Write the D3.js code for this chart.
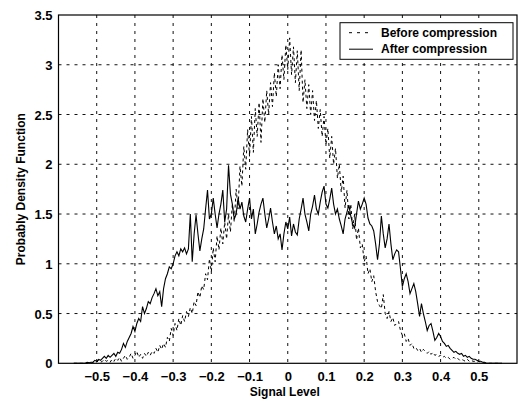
<!DOCTYPE html>
<meta charset="utf-8">
<head>
    <title>Probably Density Function</title>
    <script src="https://d3js.org/d3.v7.min.js"></script>
    <style>
        body {
            margin: 0;
            background: #fff;
        }

        svg text {
            font-family: "Liberation Sans", Arial, sans-serif;
            font-weight: bold;
            font-size: 12px;
            fill: #000;
        }

        .tick text {
            font-size: 13px;
        }
    </style>
</head>

<body>
<div id="chart"></div>

<script>
    // signal level grid: one sample every 0.005 from -0.56 to 0.56
    var levelStart = -0.56,
        levelStep = 0.005;

    var beforeCompression = [
        0, 0, 0, 0, 0, 0, 0, 0, 0.01, 0,
        0.01, 0.02, 0.01, 0.03, 0.01, 0.02, 0.04, 0.02, 0.03, 0.01,
        0.04, 0.02, 0.05, 0.03, 0.06, 0.02, 0.05, 0.08, 0.04, 0.06,
        0.1, 0.05, 0.08, 0.12, 0.06, 0.09, 0.05, 0.1, 0.07, 0.11,
        0.08, 0.12, 0.1, 0.15, 0.11, 0.18, 0.14, 0.2, 0.16, 0.26,
        0.22, 0.35, 0.28, 0.4, 0.33, 0.45, 0.38, 0.48, 0.42, 0.52,
        0.47, 0.56, 0.5, 0.62, 0.58, 0.72, 0.66, 0.78, 0.74, 0.9,
        0.84, 1.05, 0.92, 1.16, 1.02, 1.28, 1.14, 1.36, 1.2, 1.42,
        1.25, 1.5, 1.32, 1.6, 1.42, 1.75, 1.55, 1.98, 1.78, 2.18,
        1.95, 2.35, 2.08, 2.48, 2.12, 2.56, 2.28, 2.62, 2.22, 2.66,
        2.42, 2.74, 2.5, 2.82, 2.58, 2.92, 2.68, 3.0, 2.76, 3.1,
        2.85, 3.2, 2.95, 3.27, 2.9, 3.18, 2.82, 3.14, 2.74, 3.15,
        2.62, 2.85, 2.56, 2.8, 2.5, 2.74, 2.44, 2.64, 2.36, 2.55,
        2.28, 2.48, 2.2, 2.36, 2.06, 2.28, 2.0, 2.16, 1.86, 2.0,
        1.72, 1.88, 1.56, 1.74, 1.45, 1.6, 1.35, 1.5, 1.24, 1.36,
        1.16, 1.2, 1.02, 1.08, 0.9, 0.95, 0.82, 0.88, 0.72, 0.62,
        0.58, 0.55, 0.69, 0.5, 0.45, 0.52, 0.42, 0.46, 0.38, 0.4,
        0.42, 0.33, 0.28, 0.3, 0.22, 0.25, 0.18, 0.2, 0.15, 0.16,
        0.13, 0.15, 0.11, 0.14, 0.12, 0.1, 0.12, 0.09, 0.11, 0.08,
        0.09, 0.07, 0.08, 0.06, 0.07, 0.05, 0.06, 0.04, 0.05, 0.06,
        0.04, 0.05, 0.03, 0.04, 0.03, 0.02, 0.04, 0.02, 0.03, 0.02,
        0.02, 0.01, 0.02, 0.01, 0.01, 0, 0, 0, 0, 0,
        0, 0, 0, 0, 0
    ];

    var afterCompression = [
        0, 0, 0, 0, 0, 0, 0, 0.01, 0.005, 0.01,
        0.01, 0.03, 0.02, 0.04, 0.03, 0.05, 0.07, 0.05, 0.08, 0.06,
        0.08, 0.1, 0.07, 0.11, 0.1, 0.14, 0.2, 0.16, 0.22, 0.26,
        0.3, 0.37, 0.32, 0.4, 0.45, 0.42, 0.57, 0.5, 0.55, 0.62,
        0.6, 0.66, 0.7, 0.75, 0.68, 0.72, 0.57, 0.75, 0.85, 0.9,
        0.97, 0.95, 1.0, 1.08, 1.12, 1.08, 1.15, 1.12, 1.16, 1.1,
        1.15, 1.5, 1.02, 1.3, 1.49, 1.3, 1.13, 1.25, 1.35, 1.55,
        1.74, 1.45, 1.5, 1.66, 1.5, 1.36, 1.5, 1.6, 1.74, 1.42,
        1.55, 1.99, 1.7, 1.6, 1.45, 1.5, 1.66, 1.55, 1.62, 1.48,
        1.42, 1.55, 1.66, 1.45, 1.55, 1.3, 1.4, 1.52, 1.6, 1.66,
        1.5, 1.36, 1.45, 1.56, 1.42, 1.3, 1.38, 1.25, 1.3, 1.14,
        1.3, 1.42, 1.35, 1.47, 1.28, 1.4, 1.32, 1.29, 1.45, 1.55,
        1.66, 1.5, 1.42, 1.33, 1.5, 1.58, 1.69, 1.55, 1.5, 1.62,
        1.72, 1.78, 1.6, 1.56, 1.65, 1.76, 1.6, 1.5, 1.55, 1.45,
        1.38, 1.3, 1.45, 1.52, 1.59, 1.48, 1.4, 1.36, 1.5, 1.63,
        1.55, 1.6, 1.66, 1.6, 1.46, 1.4, 1.38, 1.33, 1.2, 1.04,
        1.2, 1.48, 1.3, 1.16, 1.25, 1.4, 1.2, 1.04, 1.1, 1.14,
        1.12, 0.95, 0.77, 0.85, 0.9, 0.82, 0.7, 0.75, 0.8, 0.72,
        0.6, 0.47, 0.6, 0.5, 0.42, 0.33, 0.38, 0.4, 0.32, 0.23,
        0.26, 0.3, 0.27, 0.22, 0.2, 0.17, 0.18, 0.15, 0.13, 0.11,
        0.12, 0.1, 0.09, 0.1, 0.07, 0.08, 0.06, 0.07, 0.05, 0.04,
        0.04, 0.03, 0.02, 0.02, 0.01, 0.01, 0, 0, 0, 0,
        0, 0, 0, 0, 0
    ];

    var seriesNames = ["Before compression", "After compression"];
    var xTicks = [-0.5, -0.4, -0.3, -0.2, -0.1, 0, 0.1, 0.2, 0.3, 0.4, 0.5];
    var yTicks = [0, 0.5, 1, 1.5, 2, 2.5, 3, 3.5];

    var margin = {top: 15, right: 1, bottom: 42.7, left: 58.5},
        width = 518 - margin.left - margin.right,
        height = 406 - margin.top - margin.bottom;

    var svg = d3.select("#chart")
        .append("svg")
        .attr("width", 518)
        .attr("height", 406)
        .append("g")
        .attr("transform", "translate(" + margin.left + "," + margin.top + ")");

    var x = d3.scaleLinear().domain([-0.6, 0.6]).range([0, width]);
    var y = d3.scaleLinear().domain([0, 3.5]).range([height, 0]);

    // grid
    svg.append("g")
        .selectAll("line")
        .data(xTicks)
        .enter()
        .append("line")
        .attr("x1", d => x(d)).attr("x2", d => x(d))
        .attr("y1", 0).attr("y2", height)
        .style("stroke", "#111")
        .style("stroke-dasharray", "3,5");

    svg.append("g")
        .selectAll("line")
        .data(yTicks.slice(1, -1))
        .enter()
        .append("line")
        .attr("x1", 0).attr("x2", width)
        .attr("y1", d => y(d)).attr("y2", d => y(d))
        .style("stroke", "#111")
        .style("stroke-dasharray", "3,5");

    // tick labels
    var xAxis = svg.append("g")
        .attr("transform", "translate(0," + height + ")")
        .call(d3.axisBottom(x).tickValues(xTicks).tickSize(0).tickPadding(0).tickFormat(d3.format("")));
    xAxis.select(".domain").remove();
    xAxis.selectAll("text").attr("y", 18).attr("dy", 0);

    var yAxis = svg.append("g")
        .call(d3.axisLeft(y).tickValues(yTicks).tickSize(0).tickPadding(6).tickFormat(d3.format("")));
    yAxis.select(".domain").remove();
    yAxis.selectAll("text").attr("dy", "0.35em");

    // curves
    var line = d3.line()
        .x((d, i) => x(levelStart + i * levelStep))
        .y(d => y(d));

    svg.append("path")
        .datum(beforeCompression)
        .attr("d", line)
        .style("fill", "none")
        .style("stroke", "#000")
        .style("stroke-width", 1)
        .style("stroke-dasharray", "3,3");

    svg.append("path")
        .datum(afterCompression)
        .attr("d", line)
        .style("fill", "none")
        .style("stroke", "#000")
        .style("stroke-width", 1.1);

    // axes box
    svg.append("rect")
        .attr("width", width)
        .attr("height", height)
        .style("fill", "none")
        .style("stroke", "#000")
        .style("stroke-width", 1.2);

    // axis titles
    svg.append("text")
        .attr("x", x(0) - 3)
        .attr("y", height + 33)
        .attr("text-anchor", "middle")
        .text("Signal Level");

    svg.append("text")
        .attr("transform", "translate(" + (-34) + "," + (height / 2) + ") rotate(-90)")
        .attr("text-anchor", "middle")
        .text("Probably Density Function");

    // legend
    var legend = svg.append("g")
        .attr("transform", "translate(" + (340 - margin.left) + "," + (22.7 - margin.top) + ")");

    legend.append("rect")
        .attr("width", 173)
        .attr("height", 36.6)
        .style("fill", "#fff")
        .style("stroke", "#000")
        .style("stroke-width", 1);

    legend.selectAll("line")
        .data(seriesNames)
        .enter()
        .append("line")
        .attr("x1", 9).attr("x2", 33)
        .attr("y1", (d, i) => 10 + i * 16.5)
        .attr("y2", (d, i) => 10 + i * 16.5)
        .style("stroke", "#000")
        .style("stroke-width", 1)
        .style("stroke-dasharray", (d, i) => i === 0 ? "3,5" : null);

    legend.selectAll("text")
        .data(seriesNames)
        .enter()
        .append("text")
        .attr("x", 41)
        .attr("y", (d, i) => 14 + i * 16.5)
        .text(d => d);
</script>
</body>
